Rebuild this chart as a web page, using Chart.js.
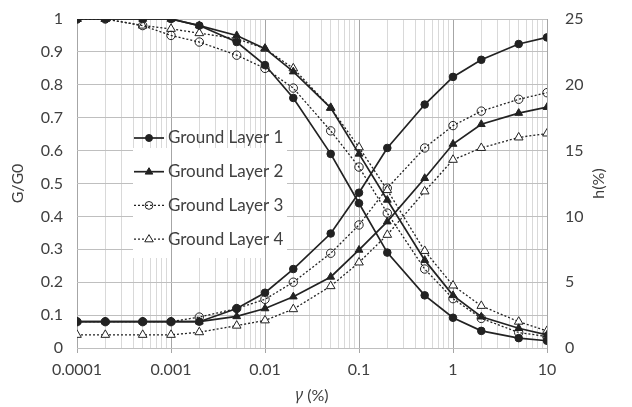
<!DOCTYPE html>
<html>
<head>
<meta charset="utf-8">
<script src="https://cdn.jsdelivr.net/npm/chart.js@4/dist/chart.umd.min.js"></script>
<style>
  body { margin: 0; background: #fff; }
  #wrap { width: 632px; height: 407px; position: relative; }
</style>
</head>
<body>
<div id="wrap"><canvas id="curveChart"></canvas></div>
<script>
// shear strain (%) at each test point
const strain = [0.0001, 0.0002, 0.0005, 0.001, 0.002, 0.005, 0.01, 0.02, 0.05, 0.1, 0.2, 0.5, 1, 2, 5, 10];

// G/G0 (left axis)
const gLayer1 = [1, 1, 1, 1, 0.98, 0.93, 0.86, 0.76, 0.59, 0.44, 0.29, 0.16, 0.092, 0.052, 0.03, 0.022];
const gLayer2 = [1, 1, 1, 1, 0.98, 0.95, 0.91, 0.84, 0.73, 0.59, 0.45, 0.267, 0.16, 0.095, 0.06, 0.04];
const gLayer3 = [1, 1, 0.98, 0.95, 0.93, 0.89, 0.85, 0.79, 0.66, 0.55, 0.41, 0.24, 0.15, 0.09, 0.047, 0.035];
const gLayer4 = [1, 1, 0.98, 0.97, 0.957, 0.94, 0.91, 0.85, 0.73, 0.61, 0.48, 0.295, 0.19, 0.128, 0.08, 0.052];

// damping h (%) (right axis)
const hLayer1 = [2, 2, 2, 2, 2, 3.0, 4.2, 6.0, 8.7, 11.8, 15.2, 18.5, 20.6, 21.9, 23.1, 23.6];
const hLayer2 = [2, 2, 2, 2, 2, 2.4, 3.0, 3.9, 5.4, 7.45, 9.6, 12.9, 15.5, 17.0, 17.85, 18.3];
const hLayer3 = [2, 2, 2, 2, 2.35, 3.0, 3.7, 5.0, 7.2, 9.35, 12.15, 15.2, 16.9, 18.0, 18.9, 19.4];
const hLayer4 = [1, 1, 1, 1, 1.2, 1.7, 2.1, 2.95, 4.7, 6.5, 8.6, 11.9, 14.3, 15.2, 16.0, 16.3];

const layerNames = ['Ground Layer 1', 'Ground Layer 2', 'Ground Layer 3', 'Ground Layer 4'];
const xTickLabels = ['0.0001', '0.001', '0.01', '0.1', '1', '10'];

const ink = '#222';
const labelColor = '#404040';
const majorGrid = '#a6a6a6';
const minorGrid = '#d9d9d9';
const font = { family: 'Lato', size: 16 };

// log grid: 1..9 in every decade, plus the end value
const xGridValues = [];
for (let e = -4; e <= 0; e++) {
    for (let m = 1; m <= 9; m++) xGridValues.push(Number((m * Math.pow(10, e)).toPrecision(6)));
}
xGridValues.push(10);

function isMajor(v) {
    const l = Math.log10(v);
    return Math.abs(l - Math.round(l)) < 1e-9;
}

function points(values) {
    return strain.map((s, i) => ({ x: s, y: values[i] }));
}

// line and marker style per layer
const styles = [
    { dash: [], width: 1.7, point: 'circle', radius: 3.8, fill: ink },
    { dash: [], width: 1.7, point: 'triangle', radius: 4.5, fill: ink },
    { dash: [2, 2], width: 1.3, point: 'circle', radius: 4.2, fill: 'rgba(0,0,0,0)' },
    { dash: [2, 2], width: 1.3, point: 'triangle', radius: 5, fill: '#fff' }
];

function makeSet(name, values, i, axis) {
    const st = styles[i];
    return {
        label: name,
        data: points(values),
        yAxisID: axis,
        borderColor: ink,
        borderWidth: st.width,
        borderDash: st.dash,
        pointStyle: st.point,
        pointRadius: st.radius,
        pointBorderWidth: 1,
        pointBorderColor: ink,
        pointBackgroundColor: st.fill,
        tension: 0,
        fill: false
    };
}

const gSeries = [gLayer1, gLayer2, gLayer3, gLayer4];
const hSeries = [hLayer1, hLayer2, hLayer3, hLayer4];
const datasets = [];
gSeries.forEach((vals, i) => datasets.push(makeSet(layerNames[i], vals, i, 'y')));
hSeries.forEach((vals, i) => datasets.push(makeSet(layerNames[i] + ' h', vals, i, 'y2')));

// legend inside the plot, white patch behind it, and the axis titles
const extras = {
    id: 'extras',
    beforeDatasetsDraw(chart) {
        const ctx = chart.ctx;
        const xs = chart.scales.x;
        const box = { l: 133, t: 148, r: 287, b: 258 };
        ctx.save();
        ctx.fillStyle = '#fff';
        ctx.fillRect(box.l, box.t, box.r - box.l, box.b - box.t);
        ctx.strokeStyle = majorGrid;
        ctx.lineWidth = 1;
        xGridValues.filter(isMajor).forEach(v => {
            const px = Math.round(xs.getPixelForValue(v)) + 0.5;
            if (px > box.l && px < box.r) {
                ctx.beginPath();
                ctx.moveTo(px, box.t);
                ctx.lineTo(px, box.b);
                ctx.stroke();
            }
        });
        ctx.restore();
    },
    afterDraw(chart) {
        const ctx = chart.ctx;
        const area = chart.chartArea;
        ctx.save();

        // legend
        layerNames.forEach((name, i) => {
            const st = styles[i];
            const y = 138 + i * 33.7;
            ctx.strokeStyle = ink;
            ctx.lineWidth = st.width;
            ctx.setLineDash(st.dash);
            ctx.beginPath();
            ctx.moveTo(134, y);
            ctx.lineTo(164, y);
            ctx.stroke();
            ctx.setLineDash([]);
            ctx.lineWidth = 1;
            ctx.fillStyle = st.fill;
            ctx.beginPath();
            if (st.point === 'circle') {
                ctx.arc(149, y, st.radius - 0.3, 0, Math.PI * 2);
            } else {
                const r = st.radius - 0.5;
                ctx.moveTo(149, y - r);
                ctx.lineTo(149 + r * 0.95, y + r * 0.6);
                ctx.lineTo(149 - r * 0.95, y + r * 0.6);
                ctx.closePath();
            }
            ctx.fill();
            ctx.stroke();
            ctx.fillStyle = labelColor;
            ctx.font = '17px Lato';
            ctx.textAlign = 'left';
            ctx.textBaseline = 'middle';
            ctx.fillText(name, 168, y);
        });

        // x title: italic gamma + " (%)"
        const gam = 'γ';
        const rest = ' (%)';
        ctx.font = 'italic 16px "Noto Sans"';
        const w1 = ctx.measureText(gam).width;
        ctx.font = '16px Lato';
        const w2 = ctx.measureText(rest).width;
        const cx = (area.left + area.right) / 2;
        let x0 = cx - (w1 + w2) / 2;
        ctx.textAlign = 'left';
        ctx.textBaseline = 'middle';
        ctx.fillStyle = labelColor;
        ctx.font = 'italic 16px "Noto Sans"';
        ctx.fillText(gam, x0, 395);
        ctx.font = '16px Lato';
        ctx.fillText(rest, x0 + w1, 396);

        // right axis title, reading bottom to top
        ctx.translate(area.right + 52, (area.top + area.bottom) / 2);
        ctx.rotate(-Math.PI / 2);
        ctx.textAlign = 'center';
        ctx.fillText('h(%)', 0, 0);
        ctx.restore();
    }
};

const ctx = document.getElementById('curveChart').getContext('2d');

const curveChart = new Chart(ctx, {
    type: 'line',
    data: { datasets: datasets },
    options: {
        responsive: true,
        maintainAspectRatio: false,
        animation: false,
        layout: { padding: { top: 19, left: 0, right: 0, bottom: 0 } },
        plugins: {
            legend: { display: false },
            tooltip: { enabled: false }
        },
        scales: {
            x: {
                type: 'logarithmic',
                min: 0.0001,
                max: 10,
                afterBuildTicks: s => { s.ticks = xGridValues.map(v => ({ value: v, major: isMajor(v) })); },
                afterFit: s => { s.height = 59; },
                border: { display: false },
                grid: {
                    color: c => (c.tick && isMajor(c.tick.value)) ? majorGrid : minorGrid,
                    tickColor: c => (c.tick && isMajor(c.tick.value)) ? majorGrid : 'rgba(0,0,0,0)',
                    tickLength: 5
                },
                ticks: {
                    autoSkip: false,
                    maxRotation: 0,
                    padding: 7,
                    color: labelColor,
                    font: font,
                    callback: v => isMajor(v) ? xTickLabels[Math.round(Math.log10(v)) + 4] : ''
                }
            },
            y: {
                position: 'left',
                min: 0,
                max: 1,
                afterFit: s => { s.width = 77; },
                border: { display: false },
                grid: { color: '#bfbfbf', tickColor: 'rgba(0,0,0,0)', tickLength: 12 },
                ticks: {
                    stepSize: 0.1,
                    padding: 2,
                    color: labelColor,
                    font: font,
                    callback: v => String(Number(v.toFixed(1)))
                },
                title: {
                    display: true,
                    text: 'G/G0',
                    color: labelColor,
                    font: font,
                    padding: { top: 8, bottom: 0 }
                }
            },
            y2: {
                position: 'right',
                min: 0,
                max: 25,
                afterFit: s => { s.width = 85; },
                border: { display: false },
                grid: { drawOnChartArea: false, tickColor: 'rgba(0,0,0,0)', tickLength: 16 },
                ticks: { stepSize: 5, padding: 2, color: labelColor, font: font }
            }
        }
    },
    plugins: [extras]
});
</script>
</body>
</html>
